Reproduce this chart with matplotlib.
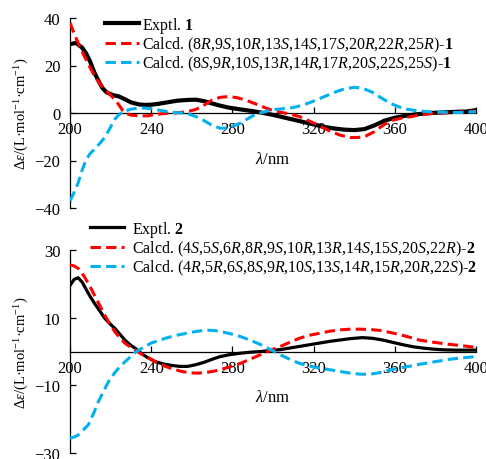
import re
import matplotlib
matplotlib.use("Agg")
import matplotlib.pyplot as plt

plt.rcParams['font.family'] = ['Liberation Serif', 'DejaVu Serif']
plt.rcParams['mathtext.fontset'] = 'custom'
plt.rcParams['mathtext.rm'] = 'Liberation Serif'
plt.rcParams['mathtext.it'] = 'Liberation Serif:italic'
plt.rcParams['mathtext.bf'] = 'Liberation Serif:bold'

# ---- compound 1 ----
wl_exp1 = [200, 203, 206, 208, 210, 212, 214, 216, 218, 221, 224, 227, 230, 234, 237, 240, 243, 248,
           253, 258, 262, 266, 270, 274, 278, 284, 290, 294, 300, 305, 310, 315, 320, 325, 330, 335,
           340, 345, 350, 355, 360, 365, 370, 375, 380, 385, 390, 395, 400]
exp1 = [29, 29.5, 27.5, 25, 21.5, 17, 13.6, 10.5, 8.7, 7.6, 7.0, 5.8, 4.5, 3.6, 3.4, 3.5, 3.8, 4.5,
        5.2, 5.5, 5.6, 5.0, 4.0, 3.1, 2.3, 1.5, 0.8, 0.2, -0.8, -1.8, -2.8, -3.8, -4.8, -5.8, -6.5, -7.0,
        -7.2, -6.8, -5.2, -3.2, -2.0, -1.2, -0.6, -0.2, 0.1, 0.3, 0.5, 0.6, 1.2]

wl_r1 = [200, 202, 204, 207, 210, 212, 215, 217, 220, 222, 224, 226, 228, 230, 234, 238, 243, 248,
         253, 258, 262, 266, 270, 274, 278, 282, 286, 290, 295, 299, 304, 308, 313, 318, 323, 328,
         333, 338, 342, 346, 350, 354, 358, 363, 368, 373, 378, 385, 392, 400]
calc_r1 = [38, 33.5, 29.5, 24, 19, 15.7, 12, 10, 7.5, 5.7, 3.5, 1.0, -0.3, -0.9, -1.2, -1.2, -0.5, -0.1,
           0.1, 0.6, 1.5, 3.3, 5.5, 6.6, 6.9, 6.5, 5.6, 4.3, 2.6, 1.3, 0.3, -0.4, -1.5, -3.4, -5.5, -7.6,
           -9.3, -10.3, -10.3, -9.6, -7.8, -5.3, -3.3, -2.2, -1.5, -0.8, -0.2, 0.1, 0.3, 0.8]

wl_s1 = [200, 202, 204, 206, 208, 210, 212, 215, 217, 219, 222, 224, 226, 230, 235, 240, 245, 250,
         255, 258, 262, 266, 270, 274, 277, 280, 284, 287, 290, 294, 300, 305, 310, 315, 320, 325,
         330, 335, 340, 344, 349, 354, 358, 362, 366, 372, 378, 385, 392, 400]
calc_s1 = [-37, -33.5, -29.4, -24, -19.5, -17, -15.3, -12.5, -10.4, -7.5, -2.7, -0.8, 0.5, 1.6, 2.2, 1.8, 1.0, 0.3,
           0, -0.3, -1.5, -3.2, -5.2, -6.4, -6.4, -5.6, -4.2, -2.7, -1.2, 0.1, 1.4, 1.8, 2.3, 3.4, 5.0, 6.8,
           8.6, 10.1, 10.8, 10.5, 8.7, 6.0, 4.0, 2.6, 1.6, 0.8, 0.5, 0.3, 0.2, 0.5]

# ---- compound 2 ----
wl_exp2 = [200, 202, 204, 206, 208, 210, 212, 215, 217, 220, 222, 225, 227, 230, 232, 235, 238, 242,
           246, 250, 254, 258, 262, 266, 270, 274, 279, 284, 289, 294, 299, 304, 308, 313, 318, 323,
           328, 333, 338, 344, 349, 354, 359, 364, 369, 374, 379, 384, 390, 400]
exp2 = [19.5, 21.3, 21.8, 20.5, 18.3, 16.2, 14.3, 11.7, 9.9, 8.0, 6.9, 4.8, 3.4, 1.8, 1.0, -0.5, -1.7, -3.0,
        -3.7, -4.1, -4.4, -4.4, -3.9, -3.2, -2.3, -1.5, -0.9, -0.5, -0.2, 0.0, 0.3, 0.6, 1.0, 1.5, 2.0, 2.5,
        3.0, 3.4, 3.8, 4.1, 3.9, 3.4, 2.7, 2.0, 1.4, 1.0, 0.7, 0.5, 0.4, 0.4]

wl_r2 = [200, 202, 204, 207, 210, 212, 215, 217, 220, 222, 225, 227, 230, 232, 235, 239, 243, 247,
         251, 255, 259, 263, 267, 271, 275, 280, 284, 289, 294, 299, 304, 309, 313, 318, 323, 328,
         333, 338, 343, 348, 353, 358, 363, 368, 372, 377, 382, 387, 392, 396, 400]
calc_r2 = [25.6, 25.3, 24.6, 22.2, 19, 16.7, 13.2, 10.8, 7.8, 5.9, 3.7, 2.5, 1.2, 0.5, -0.7, -2.0, -3.3, -4.4,
           -5.2, -5.9, -6.3, -6.4, -6.2, -5.8, -5.2, -4.3, -3.5, -2.2, -0.9, 0.4, 1.6, 2.9, 3.9, 4.8, 5.4, 6.0,
           6.4, 6.6, 6.6, 6.5, 6.2, 5.6, 4.9, 4.1, 3.4, 2.9, 2.5, 2.1, 1.8, 1.5, 1.2]

wl_s2 = [200, 202, 204, 206, 209, 212, 214, 217, 219, 222, 224, 227, 229, 232, 235, 240, 244, 247,
         251, 255, 259, 263, 267, 271, 275, 280, 284, 289, 294, 299, 304, 309, 313, 318, 323, 328,
         333, 338, 343, 348, 353, 358, 363, 367, 372, 377, 382, 387, 393, 400]
calc_s2 = [-25.6, -25.3, -24.7, -23.5, -21.7, -17.8, -14.8, -11.2, -8.9, -6.3, -4.9, -3.1, -2.0, -0.3, 0.8, 2.5, 3.3, 3.9,
           4.6, 5.1, 5.6, 6.0, 6.3, 6.2, 5.8, 5.1, 4.4, 3.3, 2.0, 0.5, -1.1, -2.5, -3.5, -4.3, -4.9, -5.4,
           -5.9, -6.4, -6.7, -6.7, -6.2, -5.4, -4.8, -4.4, -3.8, -3.3, -2.8, -2.3, -1.9, -1.5]

config_r1 = "8R,9S,10R,13S,14S,17S,20R,22R,25R"
config_s1 = "8S,9R,10S,13R,14R,17R,20S,22S,25S"
config_r2 = "4S,5S,6R,8R,9S,10R,13R,14S,15S,20S,22R"
config_s2 = "4R,5R,6S,8S,9R,10S,13S,14R,15R,20R,22S"

black = "#000000"
red = "#FF0000"
blue = "#00B0F0"


def calcd_label(config, num):
    txt = re.sub(r"([RS])", r"$\\mathit{\1}$", config)
    return "Calcd. (" + txt + ")-$\\mathbf{" + num + "}$"


fig = plt.figure(figsize=(4.86, 4.60), dpi=100)
ax1 = fig.add_axes([70 / 486, 1 - 209 / 460, 406 / 486, 190 / 460])
ax2 = fig.add_axes([70 / 486, 1 - 454 / 460, 406 / 486, 203 / 460])

dash = (3.4, 1.7)

ax1.plot(wl_exp1, exp1, color=black, lw=3.0, label="Exptl. $\\mathbf{1}$", zorder=3)
ax1.plot(wl_r1, calc_r1, color=red, lw=2.2, dashes=dash, label=calcd_label(config_r1, "1"), zorder=4)
ax1.plot(wl_s1, calc_s1, color=blue, lw=2.2, dashes=dash, label=calcd_label(config_s1, "1"), zorder=4)

ax2.plot(wl_exp2, exp2, color=black, lw=2.3, label="Exptl. $\\mathbf{2}$", zorder=3)
ax2.plot(wl_r2, calc_r2, color=red, lw=2.2, dashes=dash, label=calcd_label(config_r2, "2"), zorder=4)
ax2.plot(wl_s2, calc_s2, color=blue, lw=2.2, dashes=dash, label=calcd_label(config_s2, "2"), zorder=4)

ylab = "$\\Delta\\mathit{\\varepsilon}$/(L·mol$^{-1}$·cm$^{-1}$)"

for ax, lim, ticks in [(ax1, (-40, 40), [-40, -20, 0, 20, 40]),
                       (ax2, (-30, 30), [-30, -10, 10, 30])]:
    ax.set_xlim(200, 400)
    ax.set_ylim(*lim)
    ax.set_xticks([200, 240, 280, 320, 360, 400])
    ax.set_yticks(ticks)
    ax.spines['top'].set_visible(False)
    ax.spines['right'].set_visible(False)
    ax.spines['bottom'].set_position(('data', 0))
    ax.spines['bottom'].set_linewidth(0.9)
    ax.spines['left'].set_linewidth(0.9)
    ax.patch.set_alpha(0)
    ax.tick_params(direction='in', length=4, width=0.9, labelsize=12)
    ax.tick_params(axis='x', pad=6)
    ax.tick_params(axis='y', pad=7)
    ax.set_xlabel("$\\mathit{\\lambda}$/nm", fontsize=12)
    ax.set_ylabel(ylab, fontsize=10.5)
    ax.yaxis.set_label_coords(-0.095, 0.5)

ax1.xaxis.set_label_coords(0.5, 0.30)
ax2.xaxis.set_label_coords(0.5, 0.315)

ax1.legend(loc='upper left', bbox_to_anchor=(105 / 486, 1 - 16 / 460), bbox_transform=fig.transFigure,
           frameon=False, fontsize=11.5, handlelength=2.1, handletextpad=0.2, labelspacing=0.0,
           borderpad=0, borderaxespad=0)
ax2.legend(loc='upper left', bbox_to_anchor=(90 / 486, 1 - 220 / 460), bbox_transform=fig.transFigure,
           frameon=False, fontsize=11.5, handlelength=2.1, handletextpad=0.5, labelspacing=0.0,
           borderpad=0, borderaxespad=0)

fig.savefig("out.png", dpi=100)
